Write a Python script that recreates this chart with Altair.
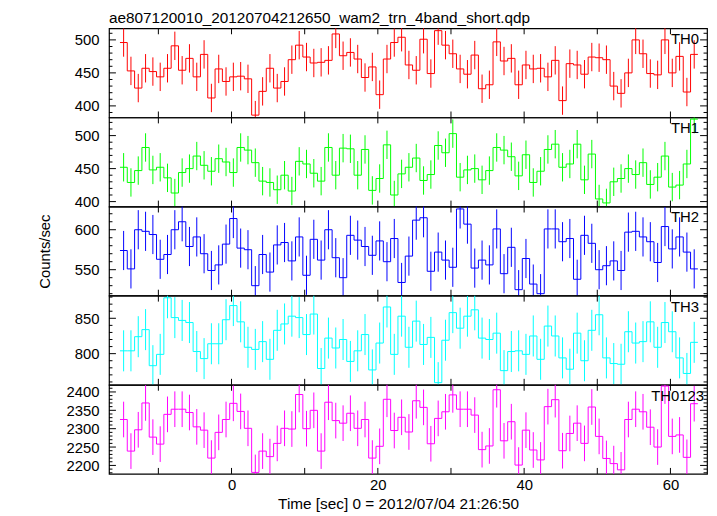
import altair as alt
import pandas as pd

# ---- data ----
time = [-14.75, -13.75, -12.75, -11.75, -10.75, -9.75, -8.75, -7.75, -6.75, -5.75,
        -4.75, -3.75, -2.75, -1.75, -0.75, 0.25, 1.25, 2.25, 3.25, 4.25,
        5.25, 6.25, 7.25, 8.25, 9.25, 10.25, 11.25, 12.25, 13.25, 14.25,
        15.25, 16.25, 17.25, 18.25, 19.25, 20.25, 21.25, 22.25, 23.25, 24.25,
        25.25, 26.25, 27.25, 28.25, 29.25, 30.25, 31.25, 32.25, 33.25, 34.25,
        35.25, 36.25, 37.25, 38.25, 39.25, 40.25, 41.25, 42.25, 43.25, 44.25,
        45.25, 46.25, 47.25, 48.25, 49.25, 50.25, 51.25, 52.25, 53.25, 54.25,
        55.25, 56.25, 57.25, 58.25, 59.25, 60.25, 61.25, 62.25, 63.25]

th0 = [496, 453, 427, 457, 452, 444, 457, 491, 454, 472,
       444, 478, 412, 456, 437, 444, 445, 441, 386, 422,
       457, 427, 437, 470, 492, 474, 465, 466, 469, 509,
       476, 481, 471, 443, 459, 417, 471, 496, 504, 462,
       454, 501, 449, 514, 492, 479, 456, 448, 477, 426,
       432, 497, 468, 472, 432, 462, 456, 457, 444, 469,
       408, 464, 462, 448, 474, 473, 470, 430, 419, 450,
       500, 479, 449, 447, 500, 450, 475, 421, 478]

th1 = [452, 429, 447, 482, 448, 452, 436, 413, 444, 450,
       469, 455, 446, 465, 460, 444, 482, 478, 459, 431,
       429, 418, 440, 416, 461, 457, 443, 431, 482, 440,
       481, 480, 440, 479, 417, 435, 486, 410, 442, 452,
       466, 432, 441, 485, 474, 503, 437, 448, 450, 433,
       447, 482, 478, 468, 439, 471, 429, 446, 479, 487,
       452, 457, 487, 433, 472, 404, 398, 430, 435, 450,
       441, 459, 426, 437, 469, 422, 425, 457, 525]

th2 = [574, 551, 600, 598, 594, 563, 569, 600, 610, 579,
       591, 570, 549, 556, 582, 614, 577, 575, 530, 569,
       547, 581, 584, 561, 591, 543, 588, 562, 600, 565,
       540, 593, 587, 579, 568, 586, 560, 589, 534, 567,
       612, 615, 548, 572, 562, 553, 626, 607, 552, 562,
       556, 601, 545, 578, 525, 564, 532, 520, 601, 601,
       585, 589, 538, 593, 583, 550, 555, 561, 549, 597,
       598, 591, 585, 559, 604, 576, 591, 572, 551]

th3 = [804, 804, 824, 834, 783, 799, 879, 851, 847, 844,
       803, 793, 814, 814, 848, 868, 845, 809, 806, 817,
       792, 833, 842, 853, 851, 827, 856, 779, 822, 808,
       820, 789, 804, 827, 777, 815, 866, 799, 853, 809,
       846, 813, 823, 759, 819, 858, 836, 853, 862, 822,
       820, 829, 776, 803, 804, 799, 825, 792, 839, 825,
       794, 778, 829, 790, 833, 855, 794, 786, 785, 831,
       815, 817, 845, 809, 844, 831, 794, 772, 816]

th0123 = [2325, 2239, 2297, 2370, 2277, 2258, 2339, 2353, 2353, 2344,
          2305, 2296, 2220, 2290, 2325, 2369, 2347, 2301, 2181, 2239,
          2224, 2260, 2301, 2299, 2393, 2300, 2350, 2239, 2372, 2322,
          2315, 2342, 2301, 2325, 2220, 2252, 2380, 2295, 2331, 2291,
          2376, 2358, 2259, 2328, 2346, 2392, 2353, 2353, 2337, 2243,
          2253, 2406, 2267, 2319, 2201, 2296, 2242, 2215, 2360, 2379,
          2240, 2287, 2315, 2260, 2359, 2279, 2219, 2205, 2188, 2325,
          2353, 2346, 2304, 2250, 2416, 2279, 2283, 2222, 2368]

series = [th0, th1, th2, th3, th0123]
names = ["TH0", "TH1", "TH2", "TH3", "TH0123"]
colors = ["#ff0000", "#00ff00", "#0000ff", "#00ffff", "#ff00ff"]
y_domains = [[382.5, 517.5], [392.5, 527.5], [517.5, 629], [756, 882], [2177, 2419.5]]
y_major = [[400, 450, 500], [400, 450, 500], [550, 600], [800, 850],
           [2200, 2250, 2300, 2350, 2400]]
y_err = [21.5, 21.5, 24.5, 29, 48.5]
x_domain = [-16.75, 65.0]
x_labels = [0, 20, 40, 60]
x_ticks = [-10, 0, 10, 20, 30, 40, 50, 60]
title_text = "ae807120010_20120704212650_wam2_trn_4band_short.qdp"
x_title = "Time [sec] 0 = 2012/07/04 21:26:50"
y_title = "Counts/sec"

FONT = "Liberation Sans"
W, H = 604, 90
MAJ, MIN, XT = 7, 3.5, 6
label_right = [596, 596, 596, 596, 601]


def panel(i):
    vals = series[i]
    color = colors[i]
    lo, hi = y_domains[i]
    bottom = i == len(series) - 1
    edges = [t - 0.5 for t in time] + [time[-1] + 0.5]
    line_df = pd.DataFrame({"t": edges, "v": vals + [vals[-1]]})
    err_df = pd.DataFrame({"t": time,
                           "v": [v - y_err[i] for v in vals],
                           "v2": [v + y_err[i] for v in vals]})
    minor = [m for m in range(int(lo // 10 + 1) * 10, int(hi) + 1, 10)
             if m not in y_major[i] and lo < m < hi]
    maj_df = pd.DataFrame({"v": y_major[i]})
    min_df = pd.DataFrame({"v": minor})
    xt_df = pd.DataFrame({"t": x_ticks})

    xscale = alt.Scale(domain=x_domain, nice=False, zero=False)
    yscale = alt.Scale(domain=[lo, hi], nice=False, zero=False)
    if bottom:
        xaxis = alt.Axis(values=x_labels, ticks=False, domain=False, grid=False,
                         labelFont=FONT, labelFontSize=15, labelColor="black",
                         labelPadding=4, titleFont=FONT, titleFontSize=15.5,
                         titleFontWeight="normal", titleColor="black",
                         titlePadding=4, titleX=292)
        xenc = alt.X("t:Q", scale=xscale, axis=xaxis, title=x_title)
    else:
        xenc = alt.X("t:Q", scale=xscale, axis=None)
    yaxis_kw = dict(values=y_major[i], ticks=False, domain=False, grid=False,
                    labelFont=FONT, labelFontSize=15, labelColor="black",
                    labelPadding=10, format="d")
    if i == 2:
        yaxis_kw.update(titleFont=FONT, titleFontSize=15, titleFontWeight="normal",
                        titleColor="black", titleX=-65, titleY=H / 2,
                        titleAlign="center", titleBaseline="middle", titleAngle=270)
        yenc = alt.Y("v:Q", scale=yscale, axis=alt.Axis(**yaxis_kw), title=y_title)
    else:
        yenc = alt.Y("v:Q", scale=yscale, axis=alt.Axis(**yaxis_kw), title=None)

    line = alt.Chart(line_df).mark_line(interpolate="step-after", color=color,
                                        strokeWidth=1, clip=True).encode(x=xenc, y=yenc)
    err = alt.Chart(err_df).mark_rule(color=color, strokeWidth=1, clip=True).encode(
        x=xenc, y=yenc, y2="v2:Q")
    tk = dict(color="black", strokeWidth=1)
    lmaj = alt.Chart(maj_df).mark_rule(**tk).encode(y=yenc, x=alt.value(0), x2=alt.value(MAJ))
    rmaj = alt.Chart(maj_df).mark_rule(**tk).encode(y=yenc, x=alt.value(W - MAJ), x2=alt.value(W))
    lmin = alt.Chart(min_df).mark_rule(**tk).encode(y=yenc, x=alt.value(0), x2=alt.value(MIN))
    rmin = alt.Chart(min_df).mark_rule(**tk).encode(y=yenc, x=alt.value(W - MIN), x2=alt.value(W))
    xtop = alt.Chart(xt_df).mark_rule(**tk).encode(x=xenc, y=alt.value(0), y2=alt.value(XT))
    xbot = alt.Chart(xt_df).mark_rule(**tk).encode(x=xenc, y=alt.value(H - XT), y2=alt.value(H))
    txt = alt.Chart(pd.DataFrame({"label": [names[i]]})).mark_text(
        align="right", baseline="alphabetic", font=FONT, fontSize=15, color="black"
    ).encode(text="label:N", x=alt.value(label_right[i]), y=alt.value(16))

    props = dict(width=W, height=H)
    if i == 0:
        props["title"] = alt.TitleParams(text=title_text, anchor="start", frame="group",
                                         font=FONT, fontSize=15.5, fontWeight="normal",
                                         color="black", offset=1)
    return alt.layer(line, err, lmaj, rmaj, lmin, rmin, xtop, xbot, txt).properties(**props)


chart = alt.vconcat(*[panel(i) for i in range(len(series))], spacing=0,
                    bounds="flush").properties(
    padding={"left": 29, "top": 0, "right": 0, "bottom": 0}
).configure_view(stroke="black", strokeWidth=1.2).configure_concat(spacing=0)

chart.save("out.html", embed_options={"renderer": "svg", "actions": False})
